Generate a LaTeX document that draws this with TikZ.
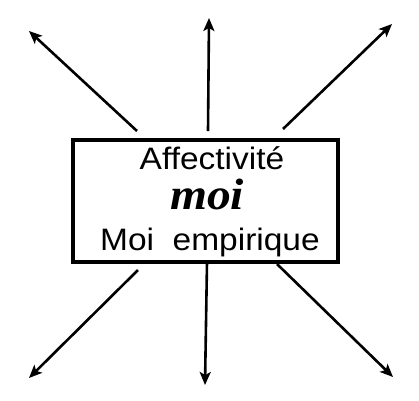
\documentclass[tikz,border=0pt]{standalone}
\usepackage{fontspec}
\setmainfont{Liberation Sans}
\newfontfamily\handfont{Liberation Serif}
\usetikzlibrary{arrows.meta}

\begin{document}
\begin{tikzpicture}[x=1pt, y=-1pt,
  ray/.style={line width=2.6pt, -{Stealth[length=13pt, width=11pt, inset=3pt]}},
  label/.style={anchor=base, inner sep=0pt, font=\fontsize{31}{36}\selectfont, xscale=1.08}]

  \useasboundingbox (0,0) rectangle (419,400);

  \node[draw, line width=3.2pt, minimum width=265pt, minimum height=122pt] (box) at (205.5,201) {};

  \node[label] (aff) at (212,169) {Affectivité};
  \node[label, font=\fontsize{44}{46}\selectfont\handfont\bfseries\itshape] (moi) at (207,209) {moi};
  \node[label] (emp) at (210,250) {Moi\ \ empirique};

  % free ends of the rays
  \coordinate (ulS) at (137,131);
  \coordinate (ulE) at (29,31);
  \coordinate (upS) at (208,131);
  \coordinate (upE) at (209,18);
  \coordinate (urS) at (283,129);
  \coordinate (urE) at (392,24);
  \coordinate (dlS) at (138,270);
  \coordinate (dlE) at (29,378);
  \coordinate (dnS) at (207,262);
  \coordinate (dnE) at (205,385);
  \coordinate (drS) at (277,264);
  \coordinate (drE) at (393,377);

  \draw[ray] (ulS) -- (ulE);
  \draw[ray] (upS) -- (upE);
  \draw[ray] (urS) -- (urE);
  \draw[ray] (dlS) -- (dlE);
  \draw[ray] (dnS) -- (dnE);
  \draw[ray] (drS) -- (drE);

\end{tikzpicture}
\end{document}
